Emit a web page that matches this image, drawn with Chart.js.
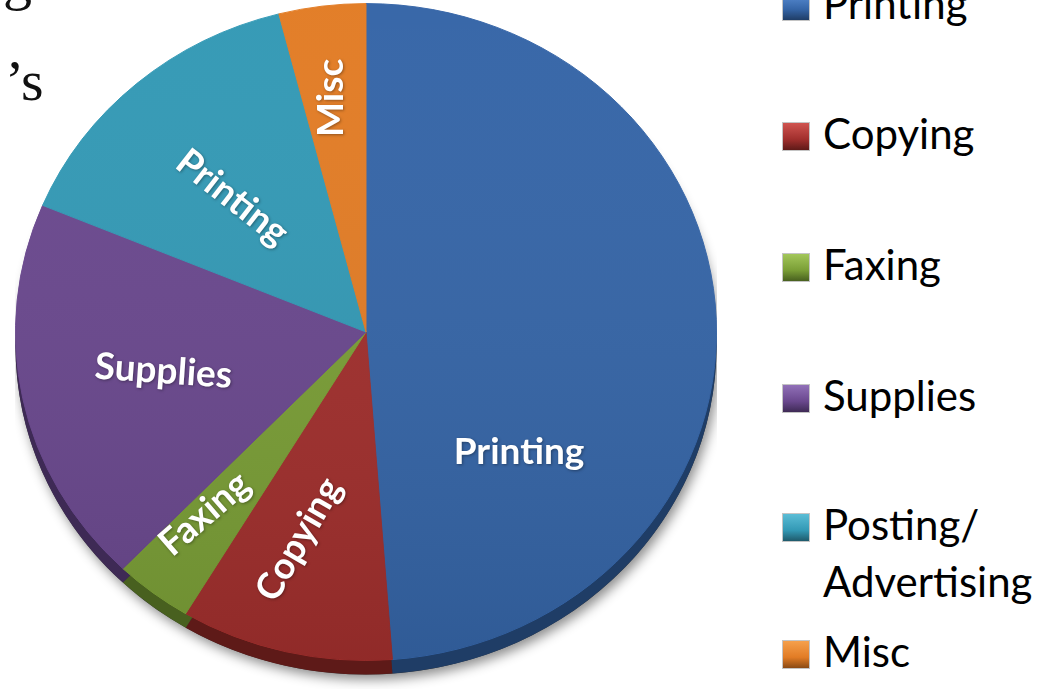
<!DOCTYPE html>
<html>
<head>
<meta charset="utf-8">
<title>Spending breakdown</title>
<script src="https://cdn.jsdelivr.net/npm/chart.js@4"></script>
<style>
  html, body { margin: 0; padding: 0; background: #fff; }
  body { width: 1053px; height: 689px; position: relative; overflow: hidden; font-family: Lato, "Open Sans", sans-serif; }
  .title-bit { position: absolute; font-family: "Liberation Serif", serif; font-size: 58px; line-height: 1; color: #111; }
  #chartBox { position: absolute; left: 15px; top: -19px; width: 702px; height: 730px; }
  #legend { position: absolute; left: 782px; top: 0; width: 271px; height: 689px; }
  .item { position: absolute; left: 0; display: flex; align-items: flex-start; white-space: nowrap; }
  .swatch { width: 28px; height: 29px; margin-top: 17px; border: 1px solid #c4c4c4; box-sizing: border-box; }
  .text { font-size: 42px; line-height: 57px; color: #000; margin-left: 13px; }
</style>
</head>
<body>
<div class="title-bit" style="left:3px; top:-49px;">g</div>
<div class="title-bit" style="left:5px; top:52px;">’s</div>
<div id="chartBox"><canvas id="pieChart"></canvas></div>
<div id="legend"></div>

<script>
const categories = ["Printing", "Copying", "Faxing", "Supplies", "Posting/Advertising", "Misc"];
const shares = [48.8, 9.8, 3.6, 19.1, 14.7, 4.0];
const sliceLabels = ["Printing", "Copying", "Faxing", "Supplies", "Printing", "Misc"];
const sliceColors = ["#3565a7", "#a12f2d", "#7a9e36", "#6a488e", "#3399b5", "#e27c25"];
const sideColors = ["#1f3d66", "#5e1a18", "#48601f", "#3e2a55", "#1f5a6b", "#8a4a14"];

// pie is drawn flattened a little, with a dark rim underneath
const SQUASH = 0.937;
const DEPTH = 15;

// where each slice label sits: fraction through the slice, fraction of radius, rotation
const labelSpots = [
    {along: 0.74, out: 0.57, turn: 0},
    {along: 0.60, out: 0.66, turn: -60},
    {along: 0.68, out: 0.72, turn: -41},
    {along: 0.50, out: 0.59, turn: 4},
    {along: 0.46, out: 0.56, turn: 38},
    {along: 0.44, out: 0.72, turn: -90}
];

//legend
const legendBaselines = [20, 150, 281, 412, 541, 668];
const swatchTops = ["#5b8fd6", "#d05450", "#a3c75a", "#9170b8", "#5bbdd6", "#f5a04c"];
const legend = document.getElementById("legend");
categories.forEach((name, i) => {
    const item = document.createElement("div");
    item.className = "item";
    item.style.top = (legendBaselines[i] - 45) + "px";
    const sw = document.createElement("div");
    sw.className = "swatch";
    sw.style.background = "linear-gradient(to bottom, " + swatchTops[i] + ", " + sliceColors[i] + " 60%, " + sideColors[i] + ")";
    const txt = document.createElement("div");
    txt.className = "text";
    name.split(/(?<=\/)/).forEach((part, k) => {
        if (k > 0) txt.appendChild(document.createElement("br"));
        txt.appendChild(document.createTextNode(part));
    });
    item.appendChild(sw);
    item.appendChild(txt);
    legend.appendChild(item);
});

const tiltedPie = {
    id: "tiltedPie",
    beforeDatasetsDraw(chart) {
        const ctx = chart.ctx;
        const arcs = chart.getDatasetMeta(0).data;
        const {x, y, outerRadius: r} = arcs[0];
        ctx.save();
        ctx.translate(x, y);
        ctx.scale(1, SQUASH);
        ctx.translate(-x, -y);

        // shadow of the whole disc
        ctx.save();
        ctx.shadowColor = "rgba(0,0,0,0.45)";
        ctx.shadowBlur = 12;
        ctx.shadowOffsetX = 3;
        ctx.shadowOffsetY = 5;
        ctx.beginPath();
        ctx.arc(x, y + DEPTH, r, 0, Math.PI * 2);
        ctx.fillStyle = "#333";
        ctx.fill();
        ctx.restore();

        // rim of each slice
        arcs.forEach((arc, i) => {
            ctx.beginPath();
            ctx.moveTo(x, y + DEPTH);
            ctx.arc(x, y + DEPTH, r, arc.startAngle, arc.endAngle);
            ctx.closePath();
            ctx.fillStyle = sideColors[i];
            ctx.fill();
        });
    },
    afterDatasetsDraw(chart) {
        const ctx = chart.ctx;
        const arcs = chart.getDatasetMeta(0).data;
        const {x, y, outerRadius: r} = arcs[0];

        // slight darkening toward the bottom of the face
        const g = ctx.createLinearGradient(0, y - r, 0, y + r);
        g.addColorStop(0, "rgba(255,255,255,0.02)");
        g.addColorStop(1, "rgba(0,0,0,0.10)");
        ctx.beginPath();
        ctx.arc(x, y, r, 0, Math.PI * 2);
        ctx.fillStyle = g;
        ctx.fill();
        ctx.restore();

        // slice labels
        ctx.save();
        ctx.font = "700 37px Lato";
        ctx.fillStyle = "#fff";
        ctx.textAlign = "center";
        ctx.textBaseline = "middle";
        ctx.shadowColor = "rgba(0,0,0,0.35)";
        ctx.shadowBlur = 3;
        ctx.shadowOffsetX = 1;
        ctx.shadowOffsetY = 1;
        arcs.forEach((arc, i) => {
            const s = labelSpots[i];
            const a = arc.startAngle + (arc.endAngle - arc.startAngle) * s.along;
            const px = x + Math.cos(a) * r * s.out;
            const py = y + Math.sin(a) * r * s.out * SQUASH;
            ctx.save();
            ctx.translate(px, py);
            ctx.rotate(s.turn * Math.PI / 180);
            ctx.fillText(sliceLabels[i], 0, 0);
            ctx.restore();
        });
        ctx.restore();
    }
};

new Chart(document.getElementById("pieChart"), {
    type: "pie",
    data: {
        labels: categories,
        datasets: [{
            data: shares,
            backgroundColor: sliceColors,
            borderColor: sliceColors,
            borderWidth: 1
        }]
    },
    options: {
        responsive: true,
        maintainAspectRatio: false,
        animation: false,
        events: [],
        layout: {padding: {bottom: 28}},
        plugins: {legend: {display: false}, tooltip: {enabled: false}}
    },
    plugins: [tiltedPie]
});
</script>
</body>
</html>
